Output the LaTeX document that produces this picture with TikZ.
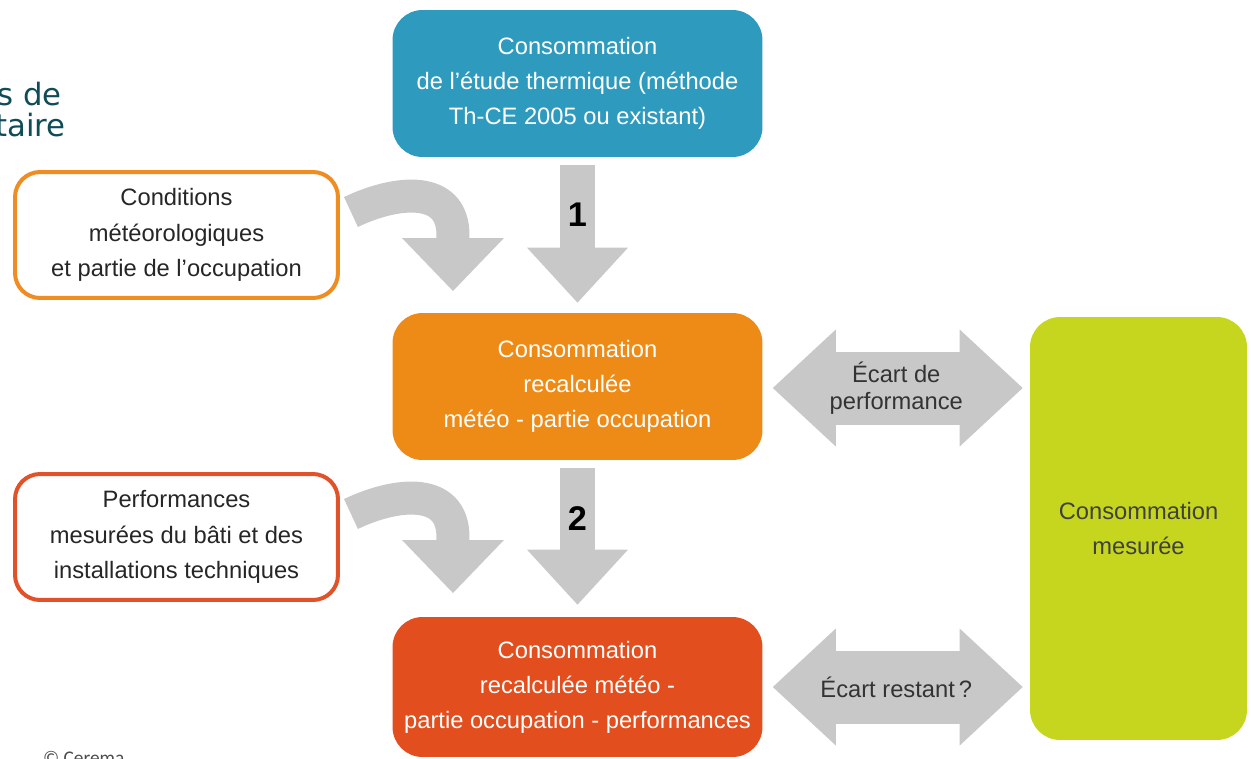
\documentclass[tikz,border=0pt]{standalone}
\usepackage{xcolor}
\usepackage{fontspec}
\setmainfont{Liberation Sans}
\newfontfamily\titrefont{DejaVu Sans}
\newfontfamily\notefont{Carlito}
\usetikzlibrary{arrows.meta,calc}

\definecolor{bleu}{HTML}{2E9BBE}
\definecolor{orangeb}{HTML}{EE8B17}
\definecolor{rouge}{HTML}{E24E1D}
\definecolor{vert}{HTML}{C6D61F}
\definecolor{gris}{HTML}{C8C8C8}
\definecolor{bord1}{HTML}{EF8C22}
\definecolor{bord2}{HTML}{E2522A}
\definecolor{sarcelle}{HTML}{0F4C56}

\begin{document}
\begin{tikzpicture}[x=0.02cm,y=-0.02cm,
        font=\fontsize{13.5}{20}\selectfont]
        \tikzstyle{etape}=[rectangle, rounded corners=0.6cm, inner sep=0pt,
            minimum width=7.4cm, minimum height=2.94cm, align=center, text=white]
        \tikzstyle{entree}=[rectangle, rounded corners=0.5cm, inner sep=0pt,
            line width=0.08cm, fill=white, minimum width=6.46cm,
            minimum height=2.52cm, align=center, text=black!85]
        \tikzstyle{fleche}=[draw=gris, line width=0.7cm,
            -{Triangle[width=2.02cm,length=1.1cm,line width=0pt 0 0]}]
        \tikzstyle{courbe}=[draw=gris, line width=0.66cm,
            -{Triangle[width=2.04cm,length=1.06cm,line width=0pt 0 0]}]
        \tikzstyle{ecart}=[draw=gris, line width=1.46cm,
            {Triangle[width=2.34cm,length=1.26cm,line width=0pt 0 0]}-{Triangle[width=2.34cm,length=1.26cm,line width=0pt 0 0]},
            shorten <=0.2cm, shorten >=0.14cm]
        \tikzstyle{chiffre}=[font=\fontsize{19.5}{20}\selectfont\bfseries, text=black]

        \useasboundingbox (0,0) rectangle (1251,758);

        % partial title and credit
        \node[anchor=base east, text=sarcelle, font=\titrefont\fontsize{17.5}{18}\selectfont] (t1) at (68,105) {s de};
        \node[anchor=base east, text=sarcelle, font=\titrefont\fontsize{17.5}{18}\selectfont] (t2) at (72,136) {taire};
        \node[anchor=base west, text=black!70, font=\notefont\fontsize{11}{12}\selectfont] (credit) at (37,764) {© Cerema};

        % main boxes
        \node[etape, fill=bleu]    (haut)    at (577.5,83.5) {Consommation\\de l’étude thermique (méthode\\Th-CE 2005 ou existant)};
        \node[etape, fill=orangeb] (milieu)  at (577.5,386.5) {Consommation\\recalculée\\météo - partie occupation};
        \node[etape, fill=rouge, minimum height=2.8cm] (bas) at (577.5,687) {Consommation\\recalculée météo -\\partie occupation - performances};
        \node[rectangle, rounded corners=0.6cm, fill=vert, minimum width=4.34cm,
            minimum height=8.46cm, align=center, text=black!75] (mesure) at (1138.5,528.5) {Consommation\\mesurée};

        % inputs
        \node[entree, draw=bord1] (meteo) at (176.5,235) {Conditions\\météorologiques\\et partie de l’occupation};
        \node[entree, draw=bord2] (perf)  at (176.5,537) {Performances\\mesurées du bâti et des\\installations techniques};

        % steps
        \draw[fleche, shorten <=0.16cm, shorten >=0.2cm] (haut.south) -- node[chiffre, pos=0.37] {1} (milieu.north);
        \draw[fleche, shorten <=0.16cm, shorten >=0.24cm] (milieu.south) -- node[chiffre, pos=0.37] {2} (bas.north);

        \draw[courbe] ($(meteo.east)+(11,-23)$) .. controls +(46,-22) and +(0,-50) .. ($(meteo.east)+(113,0)$) -- ++(0,56);
        \draw[courbe] ($(perf.east)+(11,-23)$) .. controls +(46,-22) and +(0,-50) .. ($(perf.east)+(113,0)$) -- ++(0,56);

        % gaps
        \coordinate (g1) at ($(milieu.east)+(0,1.5)$);
        \draw[ecart] (g1) -- node[align=center, text=black!80, font=\fontsize{13.5}{15.5}\selectfont] {Écart de\\performance} (g1 -| mesure.west);
        \draw[ecart] (bas.east) -- node[text=black!80] {Écart restant\,?} (bas.east -| mesure.west);
\end{tikzpicture}
\end{document}
